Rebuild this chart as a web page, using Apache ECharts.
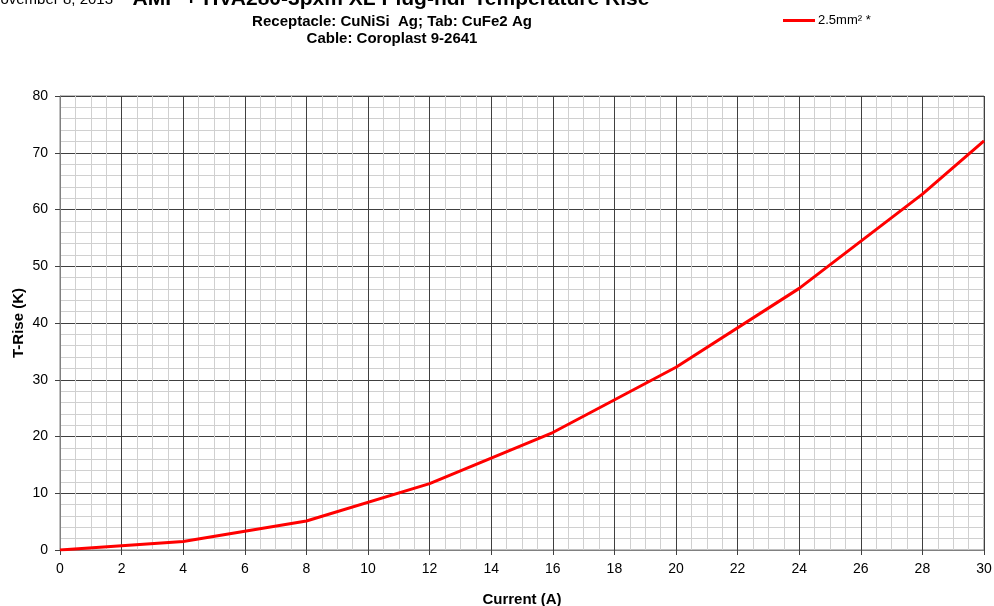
<!DOCTYPE html>
<html>
<head>
<meta charset="utf-8">
<script src="https://cdn.jsdelivr.net/npm/echarts@6/dist/echarts.min.js"></script>
<style>
html,body{margin:0;padding:0;background:#fff;overflow:hidden;}
#chart{width:994px;height:606px;}
</style>
</head>
<body>
<div id="chart"></div>
<script>
var currentA = [0, 4, 8, 12, 16, 20, 24, 28, 30];
var tRiseK = [0, 1.5, 5.1, 11.7, 20.7, 32.2, 46.1, 62.7, 72.1];
var seriesName = '2.5mm² *';
var titleText = 'AMP + HVA280-3pxm XL Plug-hdr Temperature Rise';
var subtitle1 = 'Receptacle: CuNiSi  Ag; Tab: CuFe2 Ag';
var subtitle2 = 'Cable: Coroplast 9-2641';
var dateText = 'November 8, 2013';

var FONT = '"Liberation Sans", Arial, sans-serif';
var chart = echarts.init(document.getElementById('chart'));
chart.setOption({
  animation: false,
  backgroundColor: '#fff',
  textStyle: {fontFamily: FONT},
  graphic: [
    {type: 'text', x: 113, y: -8, style: {text: dateText, font: '15px ' + FONT, fill: '#000', align: 'right'}},
    {type: 'text', x: 391, y: -11, style: {text: titleText, font: 'bold 21px ' + FONT, fill: '#000', align: 'center'}},
    {type: 'text', x: 392, y: 14, style: {text: subtitle1, font: 'bold 15px ' + FONT, fill: '#000', align: 'center'}},
    {type: 'text', x: 392, y: 31.5, style: {text: subtitle2, font: 'bold 15px ' + FONT, fill: '#000', align: 'center'}}
  ],
  legend: {
    left: 778, top: 9,
    icon: 'rect', itemWidth: 32, itemHeight: 3, itemGap: 4,
    textStyle: {fontSize: 13, color: '#000', fontFamily: FONT, padding: [0, 0, 0, -2]},
    data: [{name: seriesName, itemStyle: {color: '#ff0000'}}]
  },
  grid: {left: 60, right: 10, top: 96, bottom: 56, show: true, borderColor: '#808080', borderWidth: 1,
         containLabel: false, outerBoundsMode: 'none'},
  xAxis: {
    type: 'value', min: 0, max: 30, interval: 2,
    name: 'Current (A)', nameLocation: 'middle', nameGap: 42, nameMoveOverlap: false,
    nameTextStyle: {fontWeight: 'bold', fontSize: 15, color: '#000', fontFamily: FONT},
    axisLine: {lineStyle: {color: '#808080'}},
    axisTick: {show: true, inside: false, length: 5, lineStyle: {color: '#404040'}},
    axisLabel: {fontSize: 14, color: '#000', margin: 12, fontFamily: FONT},
    splitLine: {show: true, lineStyle: {color: '#404040', width: 1}},
    minorTick: {show: false, splitNumber: 4},
    minorSplitLine: {show: true, lineStyle: {color: '#d0d0d0', width: 1}}
  },
  yAxis: {
    type: 'value', min: 0, max: 80, interval: 10,
    name: 'T-Rise (K)', nameLocation: 'middle', nameGap: 34, nameRotate: 90, nameMoveOverlap: false,
    nameTextStyle: {fontWeight: 'bold', fontSize: 15, color: '#000', fontFamily: FONT},
    axisLine: {show: true, lineStyle: {color: '#808080'}},
    axisTick: {show: true, inside: false, length: 5, lineStyle: {color: '#404040'}},
    axisLabel: {fontSize: 14, color: '#000', margin: 12, fontFamily: FONT},
    splitLine: {show: true, lineStyle: {color: '#404040', width: 1}},
    minorTick: {show: false, splitNumber: 5},
    minorSplitLine: {show: true, lineStyle: {color: '#d0d0d0', width: 1}}
  },
  series: [{
    name: seriesName,
    type: 'line',
    data: currentA.map(function (x, i) { return [x, tRiseK[i]]; }),
    showSymbol: false,
    symbol: 'none',
    lineStyle: {color: '#ff0000', width: 3},
    itemStyle: {color: '#ff0000'},
    z: 5
  }]
});
</script>
</body>
</html>
